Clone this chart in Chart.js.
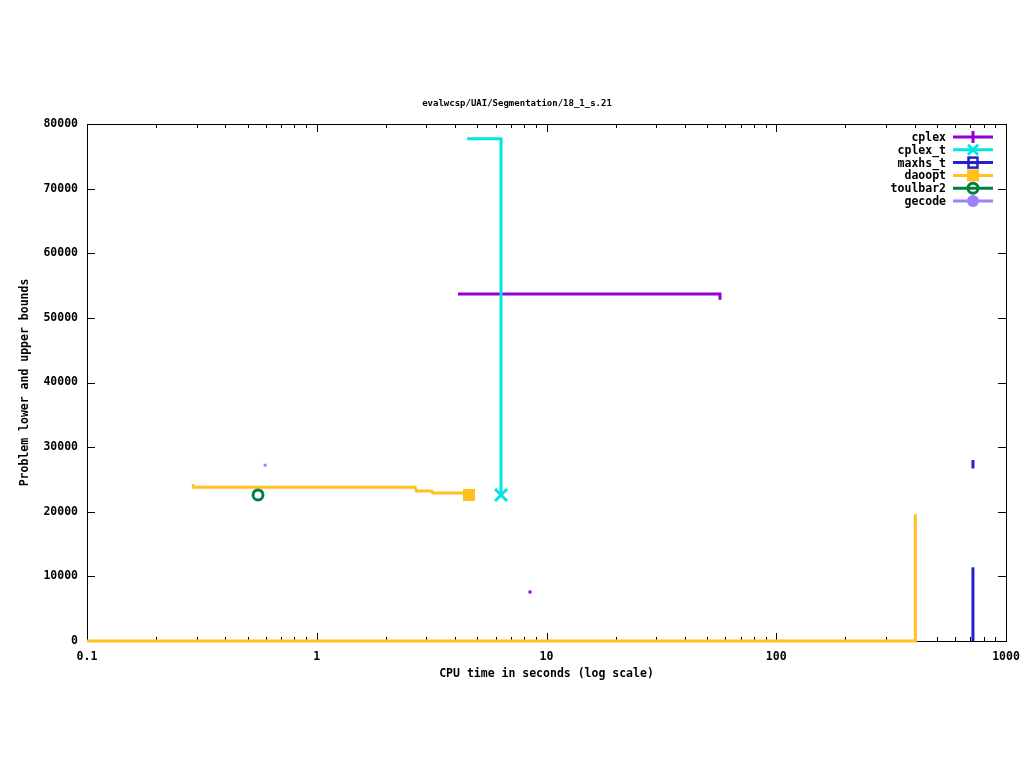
<!DOCTYPE html>
<html>
<head>
<meta charset="utf-8">
<script src="https://cdn.jsdelivr.net/npm/chart.js@4/dist/chart.umd.min.js"></script>
<style>
  html, body { margin: 0; padding: 0; background: #fff; }
  #wrap { width: 1024px; height: 768px; }
</style>
</head>
<body>
<div id="wrap"><canvas id="plot"></canvas></div>
<script>
// chart text
const chartTitle = 'evalwcsp/UAI/Segmentation/18_1_s.21';
const xTitle = 'CPU time in seconds (log scale)';
const yTitle = 'Problem lower and upper bounds';
const xTicks = [0.1, 1, 10, 100, 1000];
const yTicks = [0, 10000, 20000, 30000, 40000, 50000, 60000, 70000, 80000];

// series (x = seconds, y = bound)
const cplexX = [4.12, 56.9, 56.9];
const cplexY = [53700, 53700, 52800];
const cplexDotX = [8.48];
const cplexDotY = [7580];
const cplexTX = [4.51, 6.34, 6.34];
const cplexTY = [77700, 77700, 22600];
const maxhsLowX = [718, 718];
const maxhsLowY = [0, 11400];
const maxhsUpX = [718, 718];
const maxhsUpY = [26700, 28000];
const daooptUpX = [0.289, 0.291, 2.68, 2.72, 3.17, 3.2, 4.4];
const daooptUpY = [24300, 23800, 23800, 23200, 23200, 22900, 22900];
const daooptEndX = [4.6];
const daooptEndY = [22600];
const daooptLowX = [0.1, 403, 403];
const daooptLowY = [0, 0, 19600];
const toulbarX = [0.555];
const toulbarY = [22600];
const gecodeX = [0.596];
const gecodeY = [27200];

const colors = {
  cplex: '#9400d3',
  cplexT: '#00e6e6',
  maxhs: '#2222c8',
  daoopt: '#ffc020',
  toulbar: '#008040',
  gecode: '#a080ff'
};

const pts = (xs, ys) => xs.map((x, i) => ({ x: x, y: ys[i] }));

function lineSet(xs, ys, color, extra) {
  return Object.assign({
    data: pts(xs, ys),
    showLine: true,
    borderColor: color,
    backgroundColor: color,
    borderWidth: 3,
    pointRadius: 0,
    borderCapStyle: 'butt',
    borderJoinStyle: 'miter'
  }, extra || {});
}

function markSet(xs, ys, color, style, radius, extra) {
  return Object.assign({
    data: pts(xs, ys),
    showLine: false,
    borderColor: color,
    backgroundColor: color,
    pointStyle: style,
    pointRadius: radius,
    pointBorderWidth: 3
  }, extra || {});
}

const monoFont = '"DejaVu Sans Mono", "Liberation Mono", monospace';

// frame + inward ticks like gnuplot
const framePlugin = {
  id: 'frame',
  beforeDatasetsDraw(chart) {
    const { ctx, chartArea: a, scales } = chart;
    ctx.save();
    ctx.strokeStyle = '#000';
    ctx.lineWidth = 1;
    ctx.strokeRect(a.left + 0.5, a.top + 0.5, a.right - a.left, a.bottom - a.top);
    ctx.beginPath();
    yTicks.forEach(v => {
      const y = Math.round(scales.y.getPixelForValue(v)) + 0.5;
      ctx.moveTo(a.left, y); ctx.lineTo(a.left + 8, y);
      ctx.moveTo(a.right, y); ctx.lineTo(a.right - 8, y);
    });
    for (let d = 0.1; d < 1001; d *= 10) {
      for (let m = 1; m <= 9; m++) {
        const v = d * m;
        if (v > 1000.01) break;
        const x = Math.round(scales.x.getPixelForValue(v)) + 0.5;
        const len = m === 1 ? 8 : 4;
        ctx.moveTo(x, a.bottom); ctx.lineTo(x, a.bottom - len);
        ctx.moveTo(x, a.top); ctx.lineTo(x, a.top + len);
      }
    }
    ctx.stroke();
    ctx.restore();
  },
  afterDraw(chart) {
    const { ctx, chartArea: a } = chart;
    ctx.save();
    ctx.fillStyle = '#000';
    ctx.textAlign = 'center';
    ctx.textBaseline = 'middle';
    ctx.font = 'bold 9px ' + monoFont;
    ctx.fillText(chartTitle, 517, 104);
    ctx.font = 'bold 11.5px ' + monoFont;
    ctx.fillText(xTitle, (a.left + a.right) / 2, 674);
    ctx.translate(25, (a.top + a.bottom) / 2);
    ctx.rotate(-Math.PI / 2);
    ctx.fillText(yTitle, 0, 0);
    ctx.restore();
    drawLegend(ctx);
  }
};

const legendItems = [
  { label: 'cplex', color: colors.cplex, mark: 'plus' },
  { label: 'cplex_t', color: colors.cplexT, mark: 'cross' },
  { label: 'maxhs_t', color: colors.maxhs, mark: 'boxline' },
  { label: 'daoopt', color: colors.daoopt, mark: 'box' },
  { label: 'toulbar2', color: colors.toulbar, mark: 'ring' },
  { label: 'gecode', color: colors.gecode, mark: 'dot' }
];

function drawLegend(ctx) {
  ctx.save();
  ctx.font = 'bold 11.5px ' + monoFont;
  ctx.textAlign = 'right';
  ctx.textBaseline = 'middle';
  legendItems.forEach((it, i) => {
    const y = 137 + i * 12.8;
    ctx.fillStyle = '#000';
    ctx.fillText(it.label, 946, y + 1);
    ctx.strokeStyle = it.color;
    ctx.fillStyle = it.color;
    ctx.lineWidth = 3;
    ctx.beginPath();
    ctx.moveTo(953, y); ctx.lineTo(993, y);
    ctx.stroke();
    const cx = 973;
    ctx.beginPath();
    if (it.mark === 'plus') {
      ctx.moveTo(cx, y - 6); ctx.lineTo(cx, y + 6);
      ctx.stroke();
    } else if (it.mark === 'cross') {
      ctx.moveTo(cx - 5, y - 5); ctx.lineTo(cx + 5, y + 5);
      ctx.moveTo(cx - 5, y + 5); ctx.lineTo(cx + 5, y - 5);
      ctx.stroke();
    } else if (it.mark === 'boxline') {
      ctx.lineWidth = 2.5;
      ctx.strokeRect(cx - 4.5, y - 5, 9, 10);
    } else if (it.mark === 'box') {
      ctx.fillRect(cx - 6, y - 6, 12, 12);
    } else if (it.mark === 'ring') {
      ctx.lineWidth = 3;
      ctx.arc(cx, y, 5, 0, Math.PI * 2);
      ctx.stroke();
    } else {
      ctx.arc(cx, y, 6, 0, Math.PI * 2);
      ctx.fill();
    }
  });
  ctx.restore();
}

new Chart(document.getElementById('plot'), {
  type: 'scatter',
  data: {
    datasets: [
      markSet(toulbarX, toulbarY, colors.toulbar, 'circle', 5, { backgroundColor: '#fff', pointBorderWidth: 3 }),
      markSet(gecodeX, gecodeY, colors.gecode, 'rect', 2.1, { pointBorderWidth: 0 }),
      markSet(daooptEndX, daooptEndY, colors.daoopt, 'rect', 8.5, { pointBorderWidth: 0 }),
      markSet(cplexTX.slice(2), cplexTY.slice(2), colors.cplexT, 'crossRot', 8.5),
      markSet(cplexDotX, cplexDotY, colors.cplex, 'rect', 2.1, { pointBorderWidth: 0 }),
      lineSet(daooptUpX, daooptUpY, colors.daoopt),
      lineSet(daooptLowX, daooptLowY, colors.daoopt, { clip: false }),
      lineSet(maxhsUpX, maxhsUpY, colors.maxhs),
      lineSet(maxhsLowX, maxhsLowY, colors.maxhs, { clip: false }),
      lineSet(cplexTX, cplexTY, colors.cplexT),
      lineSet(cplexX, cplexY, colors.cplex)
    ]
  },
  options: {
    responsive: true,
    maintainAspectRatio: false,
    animation: false,
    layout: { padding: { top: 124, right: 18, bottom: 0, left: 0 } },
    plugins: {
      legend: { display: false },
      tooltip: { enabled: false }
    },
    scales: {
      x: {
        type: 'logarithmic',
        min: 0.1,
        max: 1000,
        afterBuildTicks: s => { s.ticks = xTicks.map(v => ({ value: v })); },
        afterFit: s => { s.height = 127; s.paddingLeft = 0; s.paddingRight = 0; },
        grid: { display: false, drawTicks: false },
        border: { display: false },
        ticks: {
          color: '#000',
          padding: 9,
          maxRotation: 0,
          autoSkip: false,
          font: { family: monoFont, size: 11.5, weight: 'bold' },
          callback: v => String(v)
        }
      },
      y: {
        type: 'linear',
        min: 0,
        max: 80000,
        afterBuildTicks: s => { s.ticks = yTicks.map(v => ({ value: v })); },
        afterFit: s => { s.width = 87; s.paddingTop = 0; s.paddingBottom = 0; },
        grid: { display: false, drawTicks: false },
        border: { display: false },
        ticks: {
          color: '#000',
          padding: 9,
          font: { family: monoFont, size: 11.5, weight: 'bold' },
          callback: v => String(v)
        }
      }
    }
  },
  plugins: [framePlugin]
});
</script>
</body>
</html>
